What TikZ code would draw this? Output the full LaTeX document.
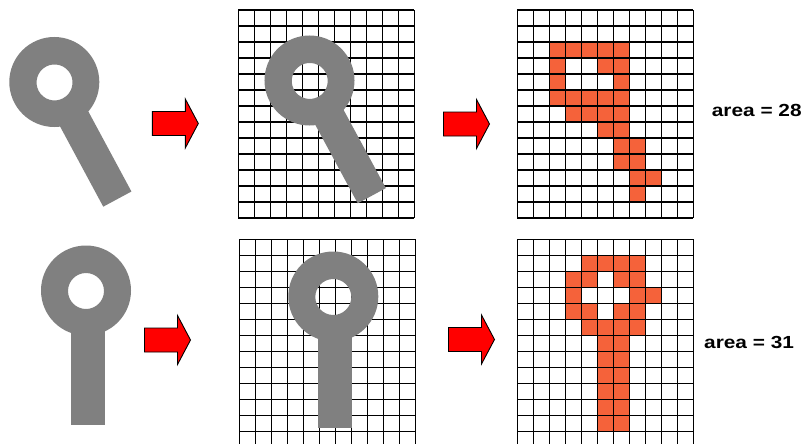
\documentclass[tikz,border=0pt]{standalone}
\usepackage{fontspec}
\setmainfont{Liberation Sans}
\usepackage{graphicx}
\definecolor{keygray}{RGB}{128,128,128}
\definecolor{pixorange}{RGB}{245,98,58}
\definecolor{arrowred}{RGB}{255,0,0}
\tikzset{
  gridline/.style={draw=black, line width=1.2pt},
  pixcell/.style={fill=pixorange},
  keyfill/.style={fill=keygray},
  blockarrow/.style={fill=arrowred, draw=black, line width=0.9pt, line join=miter},
  arealabel/.style={font=\bfseries\fontsize{17.5}{20}\selectfont, inner sep=0pt, anchor=base west},
}
\newcommand{\pixgrid}[3]{% x0, y0, rows
  \foreach \i in {0,...,11} \draw[gridline] ({#1+16*\i},#2) -- ++(0,{16*#3});
  \foreach \j in {0,...,#3} \draw[gridline] (#1,{#2+16*\j}) -- ++(176,0);
}
\newcommand{\keyshape}[6]{% cx, cy, rotation, length, width, handle x offset
  \begin{scope}[shift={(#1,#2)}, rotate=#3]
    \fill[keyfill] ({#6-#5/2},25) rectangle ({#6+#5/2},#4);
    \fill[keyfill, even odd rule] (0,0) circle[radius=45] (0,0.5) circle[radius=18];
  \end{scope}
}
\newcommand{\blockarrow}[2]{% left x, centre y
  \filldraw[blockarrow] (#1,#2) ++(0,-12) -- ++(33,0) -- ++(0,-12.5) -- ++(13,24.5)
    -- ++(-13,24.5) -- ++(0,-12.5) -- ++(-33,0) -- cycle;
}
\begin{document}
\begin{tikzpicture}[x=1pt,y=-1pt]
\useasboundingbox (0,0) rectangle (806,444);
\clip (0,0) rectangle (806,444);
\fill[white] (0,0) rectangle (806,444);

% ---- top row ----
\keyshape{54.3}{82}{28.3}{133}{32}{0}
\blockarrow{152.3}{123.5}
\pixgrid{238.3}{10}{13}
\keyshape{309.5}{80.5}{28.4}{131}{32}{0}
\blockarrow{443.5}{124}
\foreach \c/\r in {2/2,3/2,4/2,5/2,6/2, 2/3,5/3,6/3, 2/4,6/4, 2/5,3/5,4/5,5/5,6/5,
                   3/6,4/6,5/6,6/6, 5/7,6/7, 6/8,7/8, 6/9,7/9, 7/10,8/10, 7/11}
  \fill[pixcell] ({517.3+16*\c},{10+16*\r}) rectangle ++(16,16);
\pixgrid{517.3}{10}{13}
\node[arealabel] (area28) at (711.7,116.5) {\scalebox{1.19}[1]{area = 28}};

% ---- bottom row ----
\keyshape{86}{290.5}{0}{134}{34}{1.5}
\blockarrow{144.5}{340}
\pixgrid{239.3}{239.3}{13}
\keyshape{333.3}{296.5}{0}{131}{34}{1.2}
\blockarrow{448.5}{339.5}
\foreach \c/\r in {4/1,5/1,6/1,7/1, 3/2,4/2,6/2,7/2, 3/3,7/3,8/3, 3/4,4/4,6/4,7/4,
                   4/5,5/5,6/5,7/5, 5/6,6/6, 5/7,6/7, 5/8,6/8, 5/9,6/9, 5/10,6/10, 5/11,6/11}
  \fill[pixcell] ({517.3+16*\c},{239.3+16*\r}) rectangle ++(16,16);
\pixgrid{517.3}{239.3}{13}
\node[arealabel] (area31) at (704,348) {\scalebox{1.19}[1]{area = 31}};
\end{tikzpicture}
\end{document}
